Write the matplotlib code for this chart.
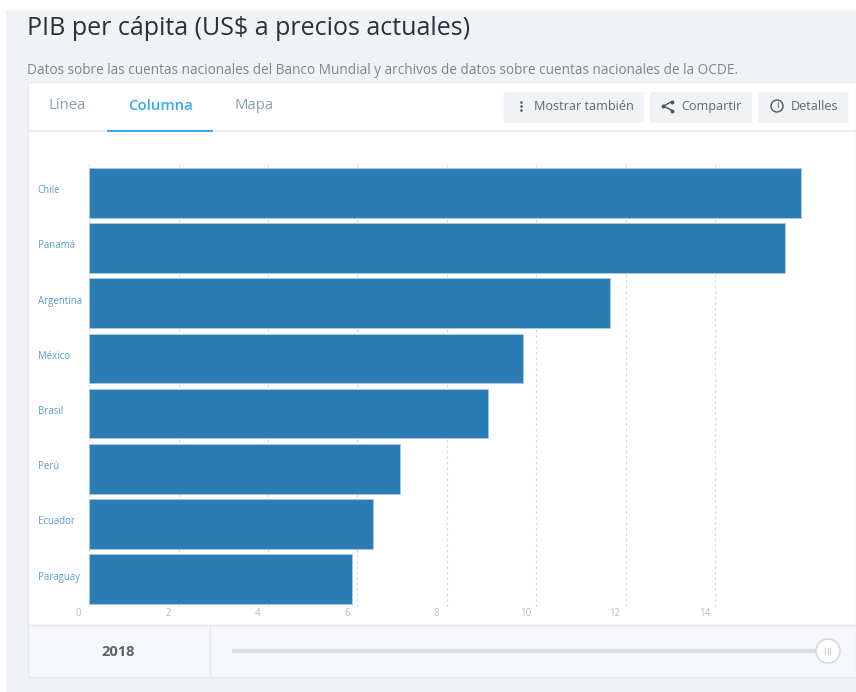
import matplotlib
matplotlib.use("Agg")
import matplotlib.pyplot as plt
from matplotlib.patches import Rectangle, Circle, FancyBboxPatch

plt.rcParams['font.family'] = ['Open Sans', 'DejaVu Sans']

countries = ["Chile", "Panamá", "Argentina", "México", "Brasil", "Perú", "Ecuador", "Paraguay"]
gdp_values = [15.92, 15.57, 11.64, 9.70, 8.93, 6.95, 6.34, 5.87]
x_ticks = [0, 2, 4, 6, 8, 10, 12, 14]
year_label = "2018"
tabs = ["Línea", "Columna", "Mapa"]
buttons = ["Mostrar también", "Compartir", "Detalles"]

W, H = 856, 692
fig = plt.figure(figsize=(W / 100, H / 100), dpi=100, facecolor="white")

# page furniture, laid out in pixels from the top left corner
page = fig.add_axes([0, 0, 1, 1])
page.set_xlim(0, W)
page.set_ylim(H, 0)
page.axis("off")

page.add_patch(Rectangle((6, 10), W - 6, H - 10, fc="#f0f2f6", ec="none"))
page.add_patch(Rectangle((28, 82), W - 28, 544, fc="white", ec="#e6e9ee", lw=1))
page.add_patch(Rectangle((28, 625), W - 28, 52, fc="#f7f8fa", ec="#e6e8ec", lw=1))
page.plot([210, 210], [625, 677], color="#e6e8ec", lw=1)
page.plot([28, W], [130.5, 130.5], color="#e8ecf0", lw=1.2)

page.text(27, 28.5, "PIB per cápita (US$ a precios actuales)", fontsize=18.03,
          fontweight="medium", color="#27323a", va="center", ha="left")
page.text(27, 70.5, "Datos sobre las cuentas nacionales del Banco Mundial y archivos de datos "
          "sobre cuentas nacionales de la OCDE.", fontsize=9.83, color="#7d858c",
          va="center", ha="left")

# tabs
tab_x = [49, 128, 234.5]
tab_colors = ["#84a0b3", "#36a9f0", "#84a0b3"]
for name, tx, tc in zip(tabs, tab_x, tab_colors):
    page.text(tx, 105.5, name, fontsize=10.7, color=tc, va="center", ha="left",
              fontweight="semibold" if name == "Columna" else "normal")
page.add_patch(Rectangle((107, 129.5), 106, 2, fc="#36a9f0", ec="none", zorder=5))

# buttons on the right of the tab bar
button_boxes = [(503, 141), (650, 102), (758, 91)]
button_text_x = [534, 681, 791]
for (bx, bw), name, tx in zip(button_boxes, buttons, button_text_x):
    page.add_patch(FancyBboxPatch((bx + 1, 93), bw - 2, 29, boxstyle="round,pad=0,rounding_size=1.5",
                                  fc="#f0f2f5", ec="#eceef1", lw=0.8))
    page.text(tx, 106.8, name, fontsize=9.05, color="#5e676e", va="center", ha="left")

# three dots icon
page.scatter([521, 521, 521], [102, 106, 110], s=3.5, color="#4c555c", lw=0)
# share icon
page.plot([672, 663.5, 672], [101.5, 106, 110.5], color="#4c555c", lw=1)
page.scatter([672, 663.5, 672], [101.5, 106, 110.5], s=8, color="#4c555c", lw=0)
# info icon
page.add_patch(Circle((777, 106), 6, fc="none", ec="#4c555c", lw=1))
page.text(777, 106, "i", fontsize=7, color="#4c555c", va="center", ha="center")

# year slider
page.text(118.5, 652, year_label, fontsize=10.5, fontweight="bold", color="#5d6368",
          va="center", ha="center")
page.plot([232, 816], [650.5, 650.5], color="#dde0e7", lw=3.2, solid_capstyle="butt")
page.add_patch(Circle((828, 651), 12, fc="white", ec="#d5dbe2", lw=1.2, zorder=3))
page.plot([825.5, 825.5], [648, 654], color="#c9ced4", lw=0.8, zorder=4)
page.plot([828, 828], [648, 654], color="#c9ced4", lw=0.8, zorder=4)
page.plot([830.5, 830.5], [648, 654], color="#c9ced4", lw=0.8, zorder=4)

# bar chart
left, right, top, bottom = 89.2, 856, 163, 607
ax = fig.add_axes([left / W, 1 - bottom / H, (right - left) / W, (bottom - top) / H])
ax.patch.set_alpha(0)
ax.barh(countries, gdp_values, height=0.9, color="#2b7bb4", edgecolor="#a9cbe3", linewidth=0.6, zorder=3)
ax.set_xlim(0, (right - left) / 44.7)
ax.set_ylim(7.504, -0.539)

ax.set_xticks(x_ticks)
ax.set_xticklabels([])
ax.grid(axis="x", color="#d8dadd", linestyle=(0, (2.2, 2.2)), linewidth=0.9, zorder=1)
ax.tick_params(axis="both", length=0)
ax.set_yticklabels([])
for spine in ax.spines.values():
    spine.set_visible(False)

for value in x_ticks:
    ax.annotate(str(value), (value, 0), xycoords=("data", "axes fraction"),
                xytext=(-10.5, -6), textcoords="offset pixels", ha="center", va="center",
                fontsize=7, color="#b9bcc0", annotation_clip=False)
for i, name in enumerate(countries):
    ax.annotate(name, (0, i), xycoords="data", xytext=(-51.5, 2), textcoords="offset pixels",
                ha="left", va="center", fontsize=6.9, color="#5a9bd0", annotation_clip=False)

fig.savefig("out.png", dpi=100, facecolor="white")
